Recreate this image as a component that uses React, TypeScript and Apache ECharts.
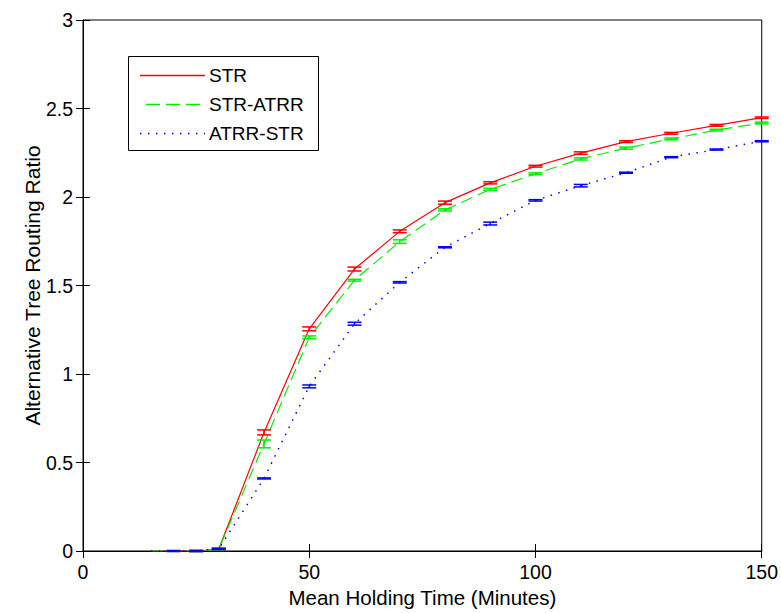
import React, { useEffect, useRef } from "react";
import * as echarts from "echarts";

const xValues = [15, 20, 25, 30, 40, 50, 60, 70, 80, 90, 100, 110, 120, 130, 140, 150];
const strValues = [0, 0, 0, 0.01, 0.67, 1.255, 1.593, 1.806, 1.968, 2.08, 2.174, 2.248, 2.313, 2.36, 2.405, 2.448];
const strAtrrValues = [0, 0, 0, 0.01, 0.605, 1.207, 1.53, 1.748, 1.927, 2.043, 2.131, 2.215, 2.276, 2.328, 2.378, 2.418];
const atrrStrValues = [0, 0, 0, 0.012, 0.41, 0.93, 1.284, 1.518, 1.716, 1.85, 1.981, 2.064, 2.137, 2.225, 2.268, 2.315];
const strErr = [0, 0, 0.003, 0.004, 0.014, 0.011, 0.011, 0.008, 0.009, 0.006, 0.005, 0.007, 0.005, 0.005, 0.005, 0.004];
const strAtrrErr = [0, 0, 0.003, 0.004, 0.022, 0.008, 0.005, 0.01, 0.006, 0.006, 0.005, 0.006, 0.006, 0.005, 0.005, 0.005];
const atrrStrErr = [0, 0.003, 0.003, 0.004, 0.003, 0.008, 0.008, 0.004, 0.003, 0.008, 0.004, 0.007, 0.003, 0.003, 0.003, 0.003];
const seriesNames = ["STR", "STR-ATRR", "ATRR-STR"];
const xTicks = [0, 50, 100, 150];
const yTicks = [0, 0.5, 1, 1.5, 2, 2.5, 3];

const FONT = "'Liberation Sans', Arial, Helvetica, sans-serif";

function errorSeries(name: string, vals: number[], errs: number[], color: string) {
  return {
    name: name + " err",
    type: "custom",
    xAxisIndex: 0,
    yAxisIndex: 0,
    data: xValues.map((x, i) => [x, vals[i], errs[i]]),
    z: 5,
    renderItem: (params: any, api: any) => {
      const x = api.value(0);
      const y = api.value(1);
      const e = api.value(2);
      if (x < 20) return null;
      const lo = api.coord([x, y - e]);
      const hi = api.coord([x, y + e]);
      const hw = 7;
      const st = { stroke: color, lineWidth: 1.5 };
      return {
        type: "group",
        children: [
          { type: "line", shape: { x1: lo[0], y1: lo[1], x2: hi[0], y2: hi[1] }, style: st },
          { type: "line", shape: { x1: lo[0] - hw, y1: lo[1], x2: lo[0] + hw, y2: lo[1] }, style: st },
          { type: "line", shape: { x1: hi[0] - hw, y1: hi[1], x2: hi[0] + hw, y2: hi[1] }, style: st },
        ],
      };
    },
  };
}

export default function App() {
  const ref = useRef<HTMLDivElement>(null);
  useEffect(() => {
    if (!ref.current) return;
    const chart = echarts.init(ref.current, null, { renderer: "svg" });
    const axisLabelStyle = { color: "#000", fontSize: 19.5, fontFamily: FONT };
    const lineData = (vals: number[]) => xValues.map((x, i) => [x, vals[i]]);
    chart.setOption({
      animation: false,
      backgroundColor: "#fff",
      grid: { left: 83, right: 18, top: 20, bottom: 58, show: true, borderColor: "#000", borderWidth: 1, backgroundColor: "transparent" },
      xAxis: [
        {
          type: "value", min: 0, max: 150, interval: 50, position: "bottom",
          name: "Mean Holding Time (Minutes)", nameLocation: "middle", nameGap: 36,
          nameTextStyle: { color: "#000", fontSize: 20.5, fontFamily: FONT },
          axisLine: { show: true, lineStyle: { color: "#000", width: 1 } },
          axisTick: { show: true, inside: true, length: 7, lineStyle: { color: "#000" } },
          axisLabel: { ...axisLabelStyle, margin: 11, formatter: (v: number) => (xTicks.includes(v) ? String(v) : "") },
          splitLine: { show: false },
        },
        {
          type: "value", min: 0, max: 150, interval: 50, position: "top",
          axisLine: { show: true, lineStyle: { color: "#000", width: 1 } },
          axisTick: { show: true, inside: true, length: 7, lineStyle: { color: "#000" } },
          axisLabel: { show: false }, splitLine: { show: false },
        },
      ],
      yAxis: [
        {
          type: "value", min: 0, max: 3, interval: 0.5, position: "left",
          name: "Alternative Tree Routing Ratio", nameLocation: "middle", nameGap: 40, nameMoveOverlap: false,
          nameTextStyle: { color: "#000", fontSize: 21, fontFamily: FONT },
          axisLine: { show: true, lineStyle: { color: "#000", width: 1 } },
          axisTick: { show: true, inside: true, length: 7, lineStyle: { color: "#000" } },
          axisLabel: { ...axisLabelStyle, margin: 10, formatter: (v: number) => (yTicks.includes(v) ? String(v) : "") },
          splitLine: { show: false },
        },
        {
          type: "value", min: 0, max: 3, interval: 0.5, position: "right",
          axisLine: { show: true, lineStyle: { color: "#000", width: 1 } },
          axisTick: { show: true, inside: true, length: 7, lineStyle: { color: "#000" } },
          axisLabel: { show: false }, splitLine: { show: false },
        },
      ],
      series: [
        {
          name: seriesNames[0], type: "line", data: lineData(strValues), symbol: "none",
          lineStyle: { color: "#ff0000", width: 1.2, type: "solid" }, z: 3,
        },
        {
          name: seriesNames[1], type: "line", data: lineData(strAtrrValues), symbol: "none",
          lineStyle: { color: "#00ee00", width: 1.2, type: [12, 6] }, z: 4,
        },
        {
          name: seriesNames[2], type: "line", data: lineData(atrrStrValues), symbol: "none",
          lineStyle: { color: "#0000ff", width: 1.5, type: [1.5, 6.5] }, z: 5,
        },
        errorSeries(seriesNames[0], strValues, strErr, "#ff0000"),
        errorSeries(seriesNames[1], strAtrrValues, strAtrrErr, "#00ee00"),
        errorSeries(seriesNames[2], atrrStrValues, atrrStrErr, "#0000ff"),
      ],
      graphic: [
        {
          type: "group", left: 128, top: 56, z: 100,
          children: [
            { type: "rect", shape: { x: 0.5, y: 0.5, width: 190, height: 94 }, style: { fill: "#fff", stroke: "#000", lineWidth: 1 } },
            { type: "line", shape: { x1: 12, y1: 19.5, x2: 77, y2: 19.5 }, style: { stroke: "#ff0000", lineWidth: 1.5 } },
            { type: "line", shape: { x1: 18, y1: 48.5, x2: 77, y2: 48.5 }, style: { stroke: "#00ee00", lineWidth: 1.5, lineDash: [14, 6] } },
            { type: "line", shape: { x1: 12, y1: 77.5, x2: 77, y2: 77.5 }, style: { stroke: "#0000ff", lineWidth: 1.5, lineDash: [1.5, 6.5] } },
            { type: "text", x: 81, y: 19, style: { text: seriesNames[0], fontSize: 19, fontFamily: FONT, fill: "#000", verticalAlign: "middle" } },
            { type: "text", x: 81, y: 48, style: { text: seriesNames[1], fontSize: 19, fontFamily: FONT, fill: "#000", verticalAlign: "middle" } },
            { type: "text", x: 81, y: 77, style: { text: seriesNames[2], fontSize: 19, fontFamily: FONT, fill: "#000", verticalAlign: "middle" } },
          ],
        },
      ],
    });
    return () => chart.dispose();
  }, []);
  return <div ref={ref} style={{ width: 781, height: 613, position: "absolute", left: 0, top: 0 }} />;
}
